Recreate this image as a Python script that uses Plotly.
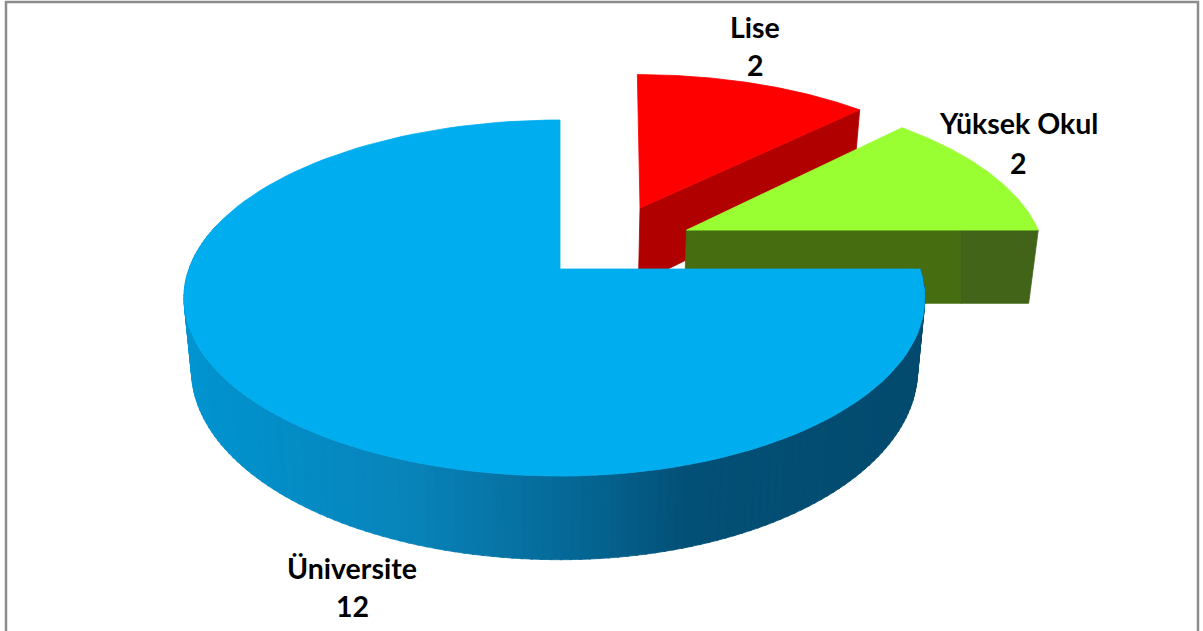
import math
import plotly.graph_objects as go

# ---- data ----
categories = ["Lise", "Yüksek Okul", "Üniversite"]
values = [2, 2, 12]

# ---- style ----
top_colors = ["#FF0000", "#99FF33", "#00ADEF"]
face_bands = [
    [(0.0, 1.0, "#B00000")],
    [(0.0, 0.78, "#466D0F"), (0.78, 1.0, "#416418")],
    None,
]
# slice layout: explode_u, explode_v, x-scale (east), x-scale (west), shear, depth
geometry = [
    (0.23, 0.373, 369, 369, 8, 80),
    (0.36, 0.233, 365, 365, 6, 76),
    (0.0, 0.0, 360, 371, 0, 70),
]
label_xy = [(755, 27, 65), (1018, 123, 163), (352, 568, 606)]

CX, CY, B, K, TAPER = 560, 269, 173.3, 0.163, 0.02


def project(u, v, z, g):
    u0, v0, ae, aw, shear, depth = g
    uu, vv = u0 + u, v0 + v
    s = 1 / (1 + K * vv)
    a = ae if u >= 0 else aw
    x = CX + a * uu * s * (1 - TAPER * z) + shear * v
    y = CY - B * vv * s + depth * z * s
    return x, y


def rim(a0, a1, z, g, n=90):
    pts = []
    for i in range(n + 1):
        a = math.radians(a0 + (a1 - a0) * i / n)
        pts.append(project(math.sin(a), math.cos(a), z, g))
    return pts


def poly(pts, color):
    return go.Scatter(
        x=[p[0] for p in pts] + [pts[0][0]],
        y=[p[1] for p in pts] + [pts[0][1]],
        mode="lines",
        fill="toself",
        fillcolor=color,
        line=dict(color=color, width=0.8),
        hoverinfo="skip",
        showlegend=False,
    )


def lerp_hex(stops, t):
    for (t0, c0), (t1, c1) in zip(stops, stops[1:]):
        if t <= t1:
            f = (t - t0) / (t1 - t0)
            rgb = [round(c0[i] + (c1[i] - c0[i]) * f) for i in range(3)]
            return "rgb(%d,%d,%d)" % tuple(rgb)
    return "rgb(%d,%d,%d)" % stops[-1][1]


def same_x_below(t, ru, rv, g):
    """Position along the lower edge of a cut face directly under position t on its upper edge."""
    if t <= 0 or t >= 1:
        return t
    target = project(ru * t, rv * t, 0, g)[0]
    lo, hi = 0.0, 1.0
    for _ in range(30):
        mid = (lo + hi) / 2
        if project(ru * mid, rv * mid, 1, g)[0] < target:
            lo = mid
        else:
            hi = mid
    return lo


# rim shading of the big slice, by screen x
rim_stops = [
    (0.00, (0, 148, 208)),
    (0.30, (8, 132, 186)),
    (0.55, (5, 100, 145)),
    (0.68, (3, 80, 118)),
    (1.00, (3, 74, 110)),
]

total = sum(values)
fig = go.Figure()
start = 0.0
spans = []
for val in values:
    end = start + 360.0 * val / total
    spans.append((start, end))
    start = end

for idx in range(len(values)):
    a0, a1 = spans[idx]
    g = geometry[idx]
    if face_bands[idx]:
        # cut face running from the apex to the rim at the slice's clockwise end
        ru, rv = math.sin(math.radians(a1)), math.cos(math.radians(a1))
        for t0, t1, col in face_bands[idx]:
            b0, b1 = same_x_below(t0, ru, rv, g), same_x_below(t1, ru, rv, g)
            fig.add_trace(poly([
                project(ru * t0, rv * t0, 0, g),
                project(ru * t1, rv * t1, 0, g),
                project(ru * b1, rv * b1, 1, g),
                project(ru * b0, rv * b0, 1, g),
            ], col))
    else:
        # outer wall shown in thin strips so it can shade round the curve
        vis0, vis1, steps = a0, a0 + 195, 150
        for i in range(steps):
            b0 = vis0 + (vis1 - vis0) * i / steps
            b1 = vis0 + (vis1 - vis0) * (i + 1) / steps + 0.3
            top = rim(b0, b1, 0, g, 2)
            bot = rim(b1, b0, 1, g, 2)
            xm = top[1][0]
            col = lerp_hex(rim_stops, min(1, max(0, (xm - 184) / 740)))
            fig.add_trace(poly(top + bot, col))
    top_pts = [project(0, 0, 0, g)] + rim(a0, a1, 0, g, 120)
    fig.add_trace(poly(top_pts, top_colors[idx]))

anns = []
for name, val, (lx, ly1, ly2) in zip(categories, values, label_xy):
    for txt, ly in ((name, ly1), (str(val), ly2)):
        anns.append(dict(x=lx, y=ly, xref="x", yref="y", text="<b>%s</b>" % txt,
                         showarrow=False, xanchor="center", yanchor="middle",
                         font=dict(family="Lato", size=28.5, color="#000000")))

frame = dict(type="line", xref="x", yref="y", line=dict(color="#8C8C8C", width=2.5))
fig.update_layout(
    width=1203,
    height=631,
    margin=dict(l=0, r=0, t=0, b=0),
    paper_bgcolor="#FFFFFF",
    plot_bgcolor="#FFFFFF",
    showlegend=False,
    xaxis=dict(range=[0, 1203], visible=False, fixedrange=True),
    yaxis=dict(range=[631, 0], visible=False, fixedrange=True),
    annotations=anns,
    shapes=[
        dict(frame, x0=6, x1=6, y0=1, y1=631),
        dict(frame, x0=5, x1=1199, y0=2, y1=2),
        dict(frame, x0=1198, x1=1198, y0=1, y1=631),
    ],
)
fig.write_html(
    "out.html",
    config={"displayModeBar": False},
    post_script="document.body.style.margin='0';document.documentElement.style.overflow='hidden';",
)
